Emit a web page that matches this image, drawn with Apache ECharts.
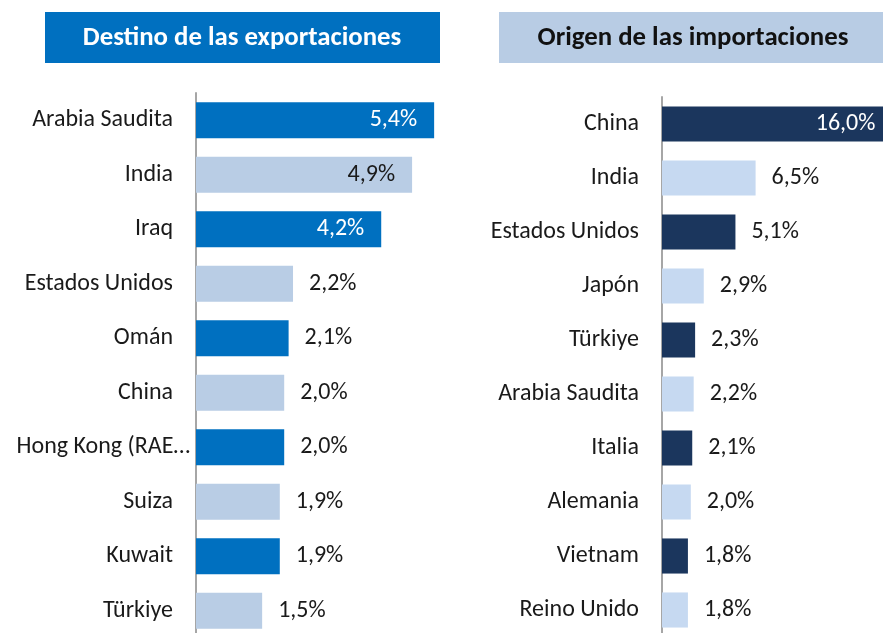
<!DOCTYPE html>
<html>
<head>
<meta charset="utf-8">
<script src="https://cdn.jsdelivr.net/npm/echarts@6/dist/echarts.min.js"></script>
<style>
  html, body { margin: 0; padding: 0; background: #fff; }
  #main { width: 883px; height: 633px; }
</style>
</head>
<body>
<div id="main"></div>
<script>
var chart = echarts.init(document.getElementById("main"));

// datos
var exp_countries = ["Arabia Saudita", "India", "Iraq", "Estados Unidos", "Omán", "China", "Hong Kong (RAE\u2026", "Suiza", "Kuwait", "Türkiye"];
var exp_values = [5.4, 4.9, 4.2, 2.2, 2.1, 2.0, 2.0, 1.9, 1.9, 1.5];
var imp_countries = ["China", "India", "Estados Unidos", "Japón", "Türkiye", "Arabia Saudita", "Italia", "Alemania", "Vietnam", "Reino Unido"];
var imp_values = [16.0, 6.5, 5.1, 2.9, 2.3, 2.2, 2.1, 2.0, 1.8, 1.8];

var font = "Carlito, Calibri, Lato, sans-serif";

function fmt(v) {
    return v.toFixed(1).replace(".", ",") + "%";
}

// barras alternadas, etiquetas dentro si la barra es larga
function make_data(values, dark, light, inside_min) {
    return values.map(function (v, i) {
        var col = (i % 2 == 0) ? dark : light;
        var inside = v >= inside_min;
        return {
            value: v,
            itemStyle: { color: col },
            label: {
                position: inside ? "insideRight" : "right",
                distance: inside ? 17 : 16,
                color: (inside && i % 2 == 0) ? "#ffffff" : "#1a1a1a"
            }
        };
    });
}

// la etiqueta truncada (con "…") sobresale hacia el eje, como en Excel
function make_cats(names) {
    return names.map(function (n) {
        if (n.indexOf("\u2026") >= 0) {
            return { value: n, textStyle: { padding: [0, -17, 0, 0] } };
        }
        return n;
    });
}

var label_base = {
    show: true,
    fontFamily: font,
    fontSize: 24,
    formatter: function (p) { return fmt(p.value); }
};

var option = {
    animation: false,
    graphic: [
        { type: "rect", shape: { x: 45, y: 12, width: 395, height: 51 }, style: { fill: "#0070C0" } },
        { type: "text", x: 242, y: 38, style: { text: "Destino de las exportaciones", fill: "#ffffff", font: "bold 26.8px " + font, textAlign: "center", textVerticalAlign: "middle" } },
        { type: "rect", shape: { x: 499, y: 12, width: 390, height: 51 }, style: { fill: "#B8CCE4" } },
        { type: "text", x: 693, y: 38, style: { text: "Origen de las importaciones", fill: "#111111", font: "bold 26.8px " + font, textAlign: "center", textVerticalAlign: "middle" } }
    ],
    grid: [
        { left: 196, width: 264.6, top: 93, bottom: -5, outerBoundsMode: "none" },
        { left: 662, width: 230.4, top: 97, bottom: -4, outerBoundsMode: "none" }
    ],
    xAxis: [
        { gridIndex: 0, type: "value", min: 0, max: 6, show: false },
        { gridIndex: 1, type: "value", min: 0, max: 16, show: false }
    ],
    yAxis: [0, 1].map(function (g) {
        return {
            gridIndex: g,
            type: "category",
            inverse: true,
            data: make_cats(g == 0 ? exp_countries : imp_countries),
            axisLine: { show: true, lineStyle: { color: "#A6A6A6", width: 2 } },
            axisTick: { show: false },
            axisLabel: { fontFamily: font, fontSize: 24, color: "#1a1a1a", margin: 23 }
        };
    }),
    series: [
        {
            type: "bar",
            xAxisIndex: 0, yAxisIndex: 0,
            barCategoryGap: "34%",
            data: make_data(exp_values, "#0070C0", "#B9CDE5", 4),
            label: label_base
        },
        {
            type: "bar",
            xAxisIndex: 1, yAxisIndex: 1,
            barCategoryGap: "35%",
            data: make_data(imp_values, "#1B365D", "#C6D9F1", 10),
            label: label_base
        }
    ]
};

chart.setOption(option);
</script>
</body>
</html>
